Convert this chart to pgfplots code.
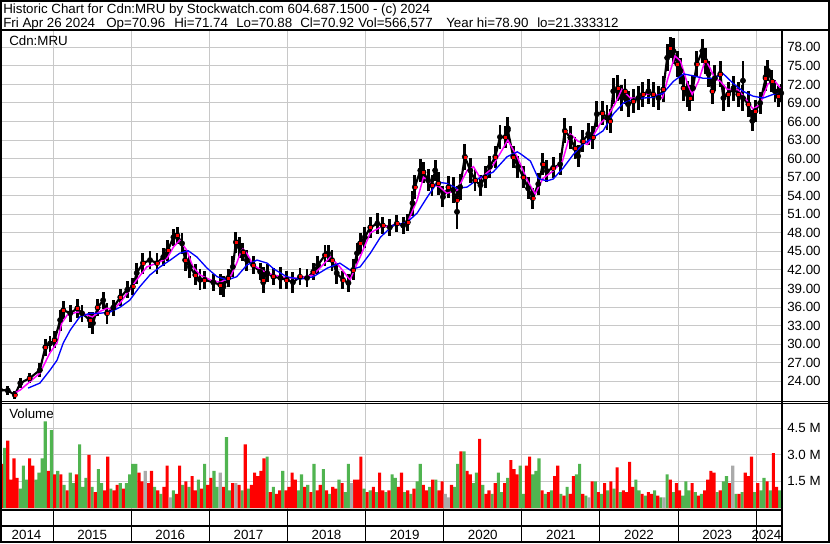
\documentclass[border=0pt]{standalone}
\usepackage{fontspec}
\setmainfont{Liberation Sans}
\usepackage{pgfplots}
\pgfplotsset{compat=1.18}
\usepackage{pgfplotstable}
\definecolor{gridgray}{RGB}{200,200,200}
\definecolor{volgreen}{RGB}{80,180,80}
\definecolor{volgray}{RGB}{170,170,170}
\definecolor{magline}{RGB}{255,0,255}

\pgfplotstableread{
x y e
2014.32 22.6 0.7
2014.42 22.5 0.7
2014.51 21.8 0.7
2014.58 23.7 0.8
2014.70 24.5 0.8
2014.83 25.8 1.1
2014.90 29.5 1.4
2014.96 30.1 1.3
2015.02 30.7 1.4
2015.09 33.9 1.7
2015.13 35.5 1.4
2015.22 35.0 1.4
2015.31 35.8 1.5
2015.37 35.0 1.4
2015.47 33.9 1.3
2015.51 33.4 1.8
2015.57 35.9 1.4
2015.64 37.1 1.4
2015.69 35.0 1.7
2015.77 35.9 1.3
2015.86 37.6 1.4
2015.95 38.8 1.4
2016.02 39.3 1.4
2016.07 41.5 1.7
2016.15 43.1 1.7
2016.24 43.6 1.4
2016.33 43.1 1.7
2016.41 44.1 1.4
2016.47 45.2 1.7
2016.54 47.3 1.4
2016.59 47.6 1.4
2016.65 46.3 1.7
2016.69 43.6 1.7
2016.75 42.5 1.8
2016.82 41.2 1.7
2016.88 40.4 1.7
2016.94 40.4 1.4
2017.05 40.0 1.4
2017.14 39.6 1.7
2017.18 39.3 1.7
2017.24 40.7 1.4
2017.30 42.5 1.7
2017.34 46.5 1.7
2017.39 45.7 1.7
2017.43 44.9 1.4
2017.48 43.6 1.7
2017.56 42.8 1.4
2017.65 41.7 1.4
2017.69 40.4 2.1
2017.74 41.5 1.4
2017.82 40.9 1.4
2017.91 40.7 1.7
2017.99 40.4 1.4
2018.07 40.0 1.7
2018.16 40.9 1.4
2018.25 40.7 1.4
2018.33 41.7 1.4
2018.39 42.8 1.4
2018.48 44.4 1.7
2018.52 44.7 1.4
2018.57 43.6 1.7
2018.63 41.5 1.7
2018.71 40.4 1.4
2018.78 39.9 1.4
2018.84 42.0 1.7
2018.89 44.7 1.7
2018.93 46.3 1.7
2018.99 47.3 1.7
2019.06 48.9 1.7
2019.15 49.5 1.7
2019.22 49.2 1.4
2019.31 48.9 1.4
2019.40 49.5 1.4
2019.48 49.2 1.4
2019.54 49.7 1.4
2019.60 52.8 2.0
2019.63 55.4 2.0
2019.70 58.1 1.8
2019.74 57.8 1.7
2019.80 56.5 1.8
2019.85 55.7 1.7
2019.89 58.1 1.7
2019.93 56.0 1.8
2019.99 53.8 1.7
2020.06 55.4 1.8
2020.12 54.9 2.1
2020.17 53.3 2.2
2020.21 55.4 2.1
2020.27 60.3 2.1
2020.34 58.1 2.0
2020.40 56.5 1.8
2020.47 55.7 1.7
2020.53 57.0 1.8
2020.59 58.7 1.8
2020.66 60.3 1.8
2020.72 63.5 2.0
2020.79 63.5 1.8
2020.82 64.6 2.1
2020.89 60.3 1.8
2020.95 58.7 1.8
2021.02 57.0 1.8
2021.08 55.2 1.8
2021.14 53.6 1.7
2021.21 55.9 1.8
2021.27 59.1 1.8
2021.32 58.0 1.7
2021.40 58.5 1.7
2021.49 59.1 1.8
2021.55 64.5 2.0
2021.62 63.4 1.8
2021.68 61.7 1.8
2021.72 60.4 1.8
2021.78 62.8 1.8
2021.85 64.0 1.8
2021.91 63.4 1.8
2021.96 67.2 2.1
2022.03 67.4 2.0
2022.09 66.6 2.0
2022.13 66.1 2.0
2022.17 70.9 2.1
2022.23 71.4 2.1
2022.28 69.8 2.1
2022.32 70.9 2.0
2022.36 68.8 2.1
2022.43 69.3 2.0
2022.49 69.8 2.0
2022.55 70.4 2.0
2022.62 70.9 2.0
2022.68 70.4 2.0
2022.75 69.8 2.0
2022.81 71.2 2.1
2022.86 76.3 2.2
2022.90 77.9 1.7
2022.94 77.4 2.1
2022.99 75.3 2.1
2023.03 74.2 2.1
2023.07 71.4 2.1
2023.12 70.4 2.1
2023.15 69.8 2.1
2023.19 71.4 2.1
2023.24 75.3 2.1
2023.31 77.4 2.0
2023.35 75.8 2.1
2023.39 73.7 2.1
2023.44 70.9 2.1
2023.47 73.0 2.1
2023.54 73.7 2.1
2023.58 69.8 2.1
2023.64 70.4 2.0
2023.71 71.4 2.0
2023.77 70.4 2.0
2023.83 69.8 2.1
2023.90 68.8 2.1
2023.95 66.1 1.7
2023.99 67.7 1.8
2024.05 69.0 1.8
2024.12 73.0 2.0
2024.15 74.2 1.7
2024.20 72.5 1.8
2024.24 70.9 1.8
2024.28 70.1 1.7
2024.32 70.6 1.4
}\price

\pgfplotstableread{
x y e
2017.69 40.0 1.8
2020.17 51.4 2.8
2020.82 64.9 1.4
2023.83 72.6 3.2
2024.12 73.2 1.8
}\spikes

\pgfplotstableread{
x y
2014.51 22.1
2014.58 22.6
2014.83 25.3
2014.96 28.6
2015.05 30.2
2015.11 33.4
2015.18 34.7
2015.31 35.2
2015.38 35.0
2015.50 34.4
2015.60 35.3
2015.69 35.8
2015.77 35.6
2015.86 36.7
2015.98 38.8
2016.07 40.4
2016.20 42.5
2016.33 43.1
2016.46 43.9
2016.54 45.7
2016.62 46.8
2016.71 45.2
2016.79 42.5
2016.88 41.2
2017.01 40.4
2017.14 40.0
2017.27 40.9
2017.35 43.1
2017.42 45.5
2017.48 44.7
2017.56 42.8
2017.65 42.1
2017.74 41.5
2017.82 41.2
2017.99 40.7
2018.16 40.7
2018.33 41.2
2018.55 44.1
2018.67 42.5
2018.80 40.4
2018.93 44.1
2019.06 48.0
2019.19 48.9
2019.35 49.2
2019.53 49.5
2019.66 53.3
2019.74 57.0
2019.83 56.0
2019.95 55.4
2020.04 54.4
2020.17 54.9
2020.30 58.1
2020.38 58.7
2020.47 56.8
2020.59 58.1
2020.72 60.8
2020.82 63.0
2020.94 60.3
2021.07 56.5
2021.17 54.3
2021.27 56.8
2021.40 58.0
2021.52 59.6
2021.62 64.0
2021.72 62.8
2021.84 62.3
2021.90 63.4
2022.00 65.6
2022.10 66.9
2022.19 68.8
2022.28 71.2
2022.39 69.8
2022.48 69.8
2022.58 70.4
2022.68 70.6
2022.80 69.8
2022.87 73.0
2022.96 76.6
2023.03 75.8
2023.12 72.1
2023.18 70.4
2023.26 72.5
2023.35 76.0
2023.41 74.6
2023.47 73.0
2023.54 72.5
2023.63 71.2
2023.76 71.2
2023.86 69.8
2023.96 68.0
2024.05 68.8
2024.15 72.1
2024.24 72.5
2024.31 71.4
}\mafast

\pgfplotstableread{
x y
2014.68 22.9
2014.83 23.7
2014.96 25.8
2015.05 27.4
2015.13 30.2
2015.22 32.3
2015.34 34.4
2015.47 35.0
2015.60 35.0
2015.73 35.2
2015.86 36.0
2015.98 37.1
2016.11 39.3
2016.24 41.2
2016.37 42.5
2016.50 43.6
2016.62 44.7
2016.73 45.1
2016.84 44.1
2016.97 42.3
2017.10 40.9
2017.23 40.4
2017.35 40.9
2017.48 42.8
2017.61 43.6
2017.74 43.1
2017.82 42.2
2017.99 40.9
2018.16 40.5
2018.33 40.9
2018.51 42.3
2018.67 43.1
2018.80 42.0
2018.93 42.5
2019.06 44.7
2019.19 47.3
2019.35 49.2
2019.53 49.7
2019.66 51.2
2019.79 53.8
2019.92 56.2
2020.04 56.0
2020.17 55.2
2020.30 55.4
2020.47 57.0
2020.63 57.8
2020.81 60.3
2020.94 61.1
2020.98 60.8
2021.11 59.6
2021.21 56.8
2021.32 56.4
2021.40 56.7
2021.53 58.5
2021.66 60.7
2021.78 62.3
2021.91 63.4
2022.04 64.5
2022.17 67.2
2022.30 69.0
2022.43 69.6
2022.55 69.8
2022.68 69.9
2022.81 70.6
2022.94 72.5
2023.07 73.7
2023.19 73.4
2023.32 73.0
2023.45 73.0
2023.58 73.7
2023.71 72.1
2023.83 70.9
2023.96 70.1
2024.09 69.8
2024.22 70.4
2024.31 70.6
}\maslow

\pgfplotstableread[row sep=\\]{
v c\\
2.5 1\\ 3.4 0\\ 3.8 1\\ 1.6 1\\ 2.8 1\\ 1.7 1\\ 1.1 0\\ 2.4 0\\ 1.6 0\\ 2.8 1\\
2.4 1\\ 1.6 0\\ 2.0 0\\ 2.8 0\\ 4.9 0\\ 2.1 1\\ 4.4 0\\ 1.9 1\\ 2.1 0\\ 1.9 1\\
1.3 0\\ 1.0 1\\ 2.0 0\\ 1.4 0\\ 1.9 1\\ 3.6 0\\ 1.2 0\\ 1.7 0\\ 3.0 1\\ 1.2 0\\
0.9 1\\ 2.2 0\\ 1.4 0\\ 1.0 1\\ 2.9 1\\ 1.1 0\\ 1.0 1\\ 1.3 1\\ 1.4 0\\ 1.1 1\\
1.4 0\\ 1.9 0\\ 2.5 0\\ 2.5 0\\ 2.0 1\\ 1.5 1\\ 2.1 2\\ 1.4 1\\ 2.1 1\\ 1.2 0\\
1.0 1\\ 0.8 0\\ 1.2 1\\ 2.4 1\\ 0.6 2\\ 1.0 0\\ 0.8 1\\ 2.4 1\\ 1.3 0\\ 1.5 1\\
1.2 0\\ 1.8 1\\ 1.0 1\\ 1.6 0\\ 1.1 1\\ 2.5 0\\ 1.3 1\\ 1.7 1\\ 2.1 0\\ 1.2 0\\
2.0 2\\ 1.2 1\\ 4.0 0\\ 1.0 0\\ 1.4 1\\ 1.4 2\\ 1.3 1\\ 1.0 0\\ 3.6 1\\ 1.1 0\\
1.3 1\\ 2.0 1\\ 1.8 1\\ 2.1 1\\ 2.8 1\\ 2.9 0\\ 0.9 1\\ 1.2 0\\ 0.8 1\\ 1.0 1\\
2.1 0\\ 1.0 1\\ 1.2 1\\ 2.0 1\\ 1.6 1\\ 1.0 0\\ 1.9 0\\ 1.2 1\\ 1.3 0\\ 0.9 1\\
2.5 0\\ 1.0 1\\ 1.3 1\\ 2.2 0\\ 1.0 1\\ 0.8 0\\ 1.2 1\\ 1.1 1\\ 1.6 0\\ 1.4 1\\
0.9 0\\ 2.5 0\\ 1.4 2\\ 1.6 1\\ 1.6 1\\ 2.9 1\\ 1.1 0\\ 0.9 1\\ 1.0 0\\ 1.2 1\\
0.9 0\\ 2.0 1\\ 1.0 1\\ 0.9 0\\ 1.0 1\\ 1.9 0\\ 1.7 0\\ 1.2 1\\ 2.0 1\\ 0.9 0\\
1.0 1\\ 0.8 0\\ 1.1 1\\ 1.5 0\\ 2.5 0\\ 1.3 1\\ 1.0 1\\ 1.2 0\\ 1.6 1\\ 1.6 0\\
1.0 1\\ 1.5 1\\ 0.8 2\\ 0.6 2\\ 1.3 1\\ 1.2 0\\ 2.5 0\\ 3.2 1\\ 3.2 0\\ 2.1 1\\
1.9 1\\ 1.4 0\\ 2.0 0\\ 3.9 1\\ 1.3 0\\ 0.8 1\\ 1.0 1\\ 0.8 0\\ 1.4 1\\ 2.0 0\\
0.9 0\\ 1.4 1\\ 1.7 0\\ 2.7 1\\ 2.2 1\\ 1.9 1\\ 2.4 0\\ 0.8 0\\ 2.4 1\\ 2.9 1\\
1.9 0\\ 2.1 0\\ 2.8 0\\ 1.0 1\\ 0.8 0\\ 0.9 1\\ 1.0 0\\ 1.8 1\\ 2.4 1\\ 0.8 0\\
0.7 1\\ 1.2 0\\ 0.8 1\\ 1.8 1\\ 1.9 0\\ 2.5 0\\ 0.8 1\\ 0.7 0\\ 0.6 2\\ 1.5 1\\
1.5 0\\ 0.9 1\\ 0.8 0\\ 1.4 1\\ 1.0 0\\ 1.5 1\\ 1.1 0\\ 2.3 1\\ 0.9 0\\ 1.0 1\\
0.9 1\\ 2.6 1\\ 1.2 1\\ 1.6 0\\ 1.0 0\\ 0.8 1\\ 0.7 0\\ 0.9 1\\ 0.8 1\\ 1.0 0\\
0.7 1\\ 0.6 0\\ 0.6 2\\ 1.9 0\\ 1.6 1\\ 0.9 0\\ 1.4 1\\ 1.0 1\\ 0.7 0\\ 1.5 0\\
1.0 0\\ 1.4 1\\ 0.9 0\\ 0.7 1\\ 0.8 0\\ 1.0 1\\ 1.6 1\\ 2.1 1\\ 2.0 1\\ 0.9 0\\
1.0 1\\ 1.5 0\\ 1.8 0\\ 1.4 1\\ 2.4 2\\ 0.8 0\\ 0.8 1\\ 0.9 0\\ 2.0 1\\ 1.8 1\\
2.9 1\\ 0.9 0\\ 1.4 1\\ 1.0 0\\ 1.7 0\\ 1.5 1\\ 1.0 0\\ 3.1 1\\ 1.2 1\\ 1.0 0\\
}\volume

\pgfplotsset{
  chartbase/.style={
    anchor=south west, scale only axis, width=586.5pt,
    xmin=2014.32, xmax=2024.33,
    axis line style={draw=none}, tick style={draw=none},
    xtick={2015,...,2024}, xticklabels={},
    tick label style={font=\fontsize{10}{12}\selectfont},
    yticklabel pos=right,
    yticklabel style={anchor=west, inner sep=0pt, xshift=3.75pt},
    grid=major, grid style={gridgray, line width=0.75pt},
  }
}

\begin{document}
\begin{tikzpicture}[font=\fontsize{10}{12}\selectfont]
\useasboundingbox (0,0) rectangle (622.5pt,407.25pt);
\fill[white] (0,0) rectangle (622.5pt,407.25pt);

% price panel
\begin{axis}[chartbase, at={(0pt,106.5pt)}, height=277.5pt,
  ymin=20.81, ymax=80.64,
  ytick={24,27,...,78},
  yticklabels={24.00,27.00,30.00,33.00,36.00,39.00,42.00,45.00,48.00,51.00,54.00,57.00,60.00,63.00,66.00,69.00,72.00,75.00,78.00}]
\addplot[only marks, mark=none, black,
  error bars/.cd, y dir=both, y explicit, error mark=none,
  error bar style={black, line width=2.2pt}]
  table[x=x, y=y, y error=e] {\price};
\addplot[only marks, mark=none, black,
  error bars/.cd, y dir=both, y explicit, error mark=none,
  error bar style={black, line width=1pt}]
  table[x=x, y=y, y error=e] {\spikes};
\addplot[black, line width=1.6pt, mark=none] table[x=x, y=y] {\price};
\addplot[only marks, mark=square*, mark size=0.75pt, red, each nth point=2] table[x=x, y=y] {\price};
\addplot[magline, line width=1.1pt, mark=none] table[x=x, y=y] {\mafast};
\addplot[blue, line width=1.0pt, mark=none] table[x=x, y=y] {\maslow};
\end{axis}

% volume panel
\begin{axis}[chartbase, at={(0pt,24.75pt)}, height=80.25pt,
  ymin=-0.113, ymax=5.932,
  ytick={1.5,3,4.5}, yticklabels={1.5 M,3.0 M,4.5 M}]
\addplot[ybar, bar width=0.04, bar shift=0pt, fill=volgreen, draw=none]
  table[x expr=2014.34+0.04*\coordindex, y expr={\thisrow{c}==0 ? \thisrow{v} : 0}] {\volume};
\addplot[ybar, bar width=0.04, bar shift=0pt, fill=red, draw=none]
  table[x expr=2014.34+0.04*\coordindex, y expr={\thisrow{c}==1 ? \thisrow{v} : 0}] {\volume};
\addplot[ybar, bar width=0.04, bar shift=0pt, fill=volgray, draw=none]
  table[x expr=2014.34+0.04*\coordindex, y expr={\thisrow{c}==2 ? \thisrow{v} : 0}] {\volume};
\end{axis}

% year strip
\begin{axis}[anchor=south west, scale only axis, width=586.5pt, height=24pt,
  at={(0pt,0.75pt)}, xmin=2014.32, xmax=2024.33, ymin=0, ymax=1,
  axis line style={draw=none}, tick style={draw=none}, ytick=\empty,
  xtick={2015,...,2024}, xticklabels={},
  xmajorgrids, grid style={black, line width=0.75pt},
  tick label style={font=\fontsize{10}{12}\selectfont},
  extra x ticks={2014.66,2015.5,2016.5,2017.5,2018.5,2019.5,2020.5,2021.5,2022.5,2023.5,2024.13},
  extra x tick labels={2014,2015,2016,2017,2018,2019,2020,2021,2022,2023,2024},
  extra x tick style={grid=none, xticklabel style={anchor=center, yshift=5.25pt}}]
\addplot[draw=none] coordinates {(2015,0.5)};
\end{axis}

% frame and texts (pixel coordinates, y downwards)
\begin{scope}[x=0.75pt, y=-0.75pt, yshift=407.25pt]
  \draw[line width=1.5pt] (1,1) rectangle (829,542);
  \draw[line width=1.5pt] (0,30.5) -- (830,30.5);
  \draw[line width=1.5pt] (782,31) -- (782,542);
  \draw[line width=0.75pt] (0,401.5) -- (830,401.5);
  \draw[line width=0.75pt] (0,403.5) -- (830,403.5);
  \draw[line width=1.5pt] (0,510) -- (782,510);
  \draw[line width=1.5pt] (0,526) -- (782,526);
  \node[anchor=base west, inner sep=0pt] at (3,13.3) {Historic Chart for Cdn:MRU by Stockwatch.com 604.687.1500 - (c) 2024};
  \node[anchor=base west, inner sep=0pt] at (3,27.7) {Fri Apr 26 2024};
  \node[anchor=base west, inner sep=0pt] at (106,27.7) {Op=70.96};
  \node[anchor=base west, inner sep=0pt] at (174,27.7) {Hi=71.74};
  \node[anchor=base west, inner sep=0pt] at (236,27.7) {Lo=70.88};
  \node[anchor=base west, inner sep=0pt] at (300,27.7) {Cl=70.92};
  \node[anchor=base west, inner sep=0pt] at (358,27.7) {Vol=566,577};
  \node[anchor=base west, inner sep=0pt] at (446,27.7) {Year hi=78.90};
  \node[anchor=base west, inner sep=0pt] at (537,27.7) {lo=21.333312};
  \node[anchor=base west, inner sep=0pt] at (9,45.7) {Cdn:MRU};
  \node[anchor=base west, inner sep=0pt] at (9,418) {Volume};
\end{scope}
\end{tikzpicture}
\end{document}
